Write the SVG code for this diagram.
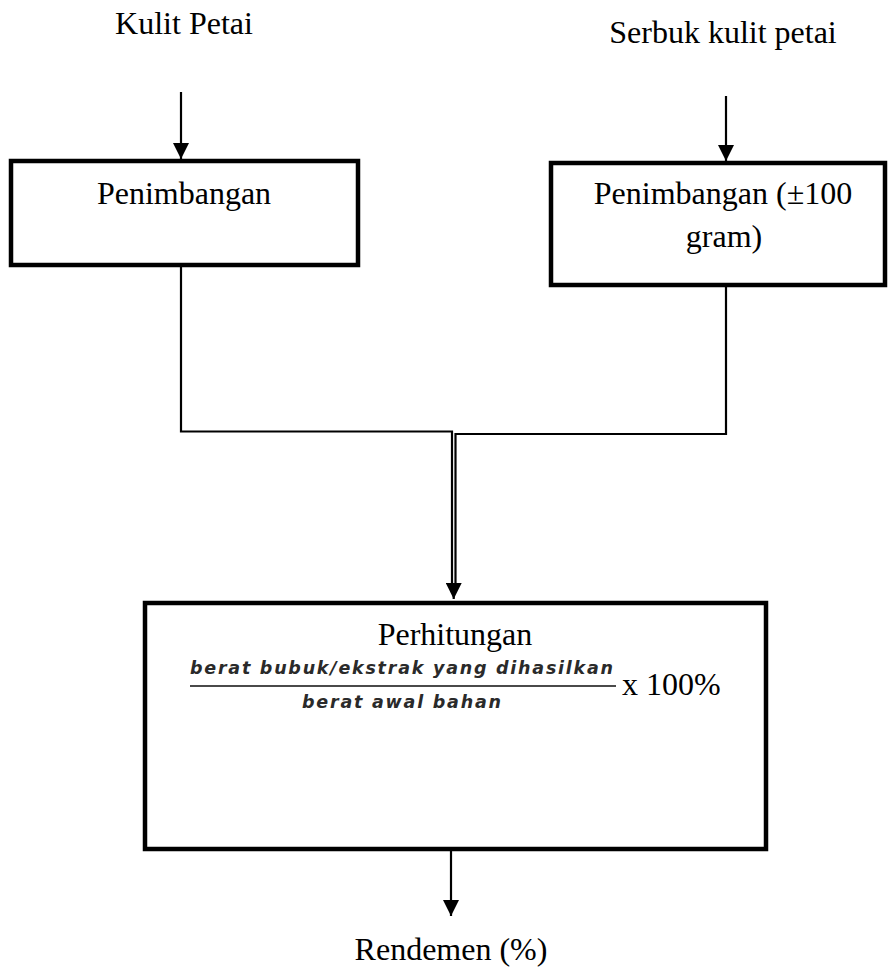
<svg xmlns="http://www.w3.org/2000/svg" width="888" height="971" viewBox="0 0 888 971">
  <defs>
    <style>
      .label { font-family: "Liberation Serif", "Times New Roman", serif; font-size: 32px; fill: #000; }
      .box { fill: #fff; stroke: #000; stroke-width: 4.5; }
      .wire { fill: none; stroke: #000; stroke-width: 2.2; }
      .frac { font-family: "DejaVu Sans", sans-serif; font-style: italic; font-weight: bold; font-size: 17.5px; fill: #2a2a2a; }
    </style>
    <marker id="arrow" viewBox="0 0 16 16" refX="16" refY="8" markerWidth="16" markerHeight="16" markerUnits="userSpaceOnUse" orient="auto">
      <path d="M0,0 L16,8 L0,16 Z" fill="#000"/>
    </marker>
  </defs>

  <rect width="888" height="971" fill="#fff"/>

  <!-- inputs -->
  <g id="input-kulit">
    <text class="label" x="184" y="34" text-anchor="middle">Kulit Petai</text>
  </g>
  <g id="input-serbuk">
    <text class="label" x="723" y="43" text-anchor="middle">Serbuk kulit petai</text>
  </g>

  <!-- weighing steps -->
  <g id="weigh-left">
    <rect class="box" x="11" y="161" width="347" height="104"/>
    <text class="label" x="184" y="204" text-anchor="middle">Penimbangan</text>
  </g>
  <g id="weigh-right">
    <rect class="box" x="551" y="163" width="334" height="122"/>
    <text class="label" x="723" y="204" text-anchor="middle">Penimbangan (±100</text>
    <text class="label" x="724" y="247" text-anchor="middle">gram)</text>
  </g>

  <!-- calculation -->
  <g id="calc">
    <rect class="box" x="145" y="603" width="621" height="246"/>
    <text class="label" x="455" y="645" text-anchor="middle">Perhitungan</text>
    <text class="frac" x="190" y="674" textLength="423" lengthAdjust="spacing">berat bubuk/ekstrak yang dihasilkan</text>
    <line x1="190" y1="686" x2="616" y2="686" stroke="#4a4a4a" stroke-width="2.2"/>
    <text class="frac" x="302" y="708" textLength="199" lengthAdjust="spacing">berat awal bahan</text>
    <text class="label" x="622" y="695">x 100%</text>
  </g>

  <!-- output -->
  <g id="output">
    <text class="label" x="451" y="960" text-anchor="middle">Rendemen (%)</text>
  </g>

  <!-- connectors -->
  <g id="connectors">
    <line class="wire" x1="181" y1="92" x2="181" y2="159" marker-end="url(#arrow)"/>
    <line class="wire" x1="726" y1="96" x2="726" y2="161" marker-end="url(#arrow)"/>
    <polyline class="wire" points="181,266 181,431.5 452,431.5 452,585"/>
    <polyline class="wire" points="726,286 726,434 455.5,434 455.5,585"/>
    <line class="wire" x1="453.7" y1="585" x2="453.7" y2="599" marker-end="url(#arrow)"/>
    <line class="wire" x1="451" y1="851" x2="451" y2="916" marker-end="url(#arrow)"/>
  </g>
</svg>
